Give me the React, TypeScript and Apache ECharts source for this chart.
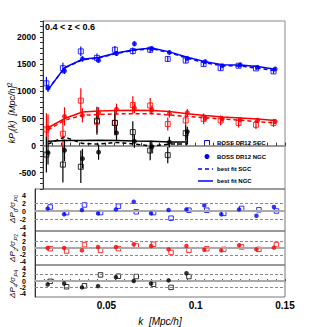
import React, { useEffect, useRef } from "react";
import * as echarts from "echarts";

// effective k of each bin [h/Mpc]
const K = [0.0178, 0.027, 0.037, 0.046, 0.056, 0.066, 0.0757, 0.0855, 0.0955, 0.1055, 0.115, 0.125, 0.1347, 0.1445];
const K4 = [0.0178, 0.027, 0.037, 0.046, 0.056, 0.066, 0.0757, 0.0855, 0.0955];
const K4_FIT = [0.0178, 0.027, 0.037, 0.046, 0.056, 0.066, 0.0757, 0.0855, 0.0955, 0.0955];

// monopole kP0
const P0_NGC = [1060, 1380, 1600, 1575, 1700, 1880, 1790, 1720, 1610, 1550, 1475, 1490, 1445, 1415];
const P0_NGC_ERR = [70, 60, 50, 45, 45, 45, 40, 40, 35, 35, 30, 30, 30, 30];
const P0_SGC = [1150, 1430, 1740, 1620, 1770, 1745, 1770, 1600, 1570, 1505, 1430, 1475, 1425, 1370];
const P0_SGC_ERR = [120, 100, 90, 80, 70, 65, 60, 55, 50, 45, 45, 40, 40, 40];
const P0_FIT_NGC = [1030, 1440, 1595, 1625, 1710, 1770, 1800, 1730, 1630, 1550, 1495, 1490, 1460, 1410];
const P0_FIT_SGC = [1040, 1430, 1585, 1615, 1700, 1760, 1790, 1715, 1615, 1530, 1475, 1470, 1430, 1385];

// quadrupole kP2
const P2_NGC = [330, 540, 560, 600, 675, 690, 660, 590, 610, 510, 495, 480, 465, 445];
const P2_NGC_ERR = [250, 170, 130, 110, 100, 90, 80, 70, 65, 60, 55, 50, 50, 45];
const P2_SGC = [300, 220, 830, 440, 420, 750, 740, 400, 465, 495, 465, 420, 385, 420];
const P2_SGC_ERR = [300, 260, 230, 200, 180, 160, 140, 120, 110, 100, 90, 85, 80, 75];
const P2_FIT_NGC = [330, 500, 620, 640, 650, 655, 650, 630, 590, 555, 530, 510, 490, 465];
const P2_FIT_SGC = [290, 470, 560, 575, 585, 590, 590, 565, 540, 515, 490, 470, 440, 420];

// hexadecapole kP4
const P4_NGC = [-130, -85, -240, -120, 235, 80, -20, 65, 260];
const P4_NGC_ERR = [220, 200, 180, 140, 130, 120, 110, 100, 90];
const P4_SGC = [-165, -350, -390, 460, 420, 250, -90, -175, 230];
const P4_SGC_ERR = [330, 330, 300, 260, 230, 200, 180, 150, 140];
const P4_FIT_NGC = [80, 95, 95, 100, 95, 85, 80, 65, 65, 250];
const P4_FIT_SGC = [30, 160, 40, 30, 60, 30, -10, 30, 30, 250];

// residuals (data - fit) / sigma
const R0_NGC = [0.6, -0.8, 0.25, -0.6, 0.4, 2.3, -0.6, 0.25, 0.4, 1.4, -0.8, 0.4, -1.2, 1.0];
const R0_SGC = [1.0, -0.4, 1.5, -0.4, 1.2, -0.2, -0.4, -1.8, 0.2, 0.2, -0.6, 0.65, 0.3, 0.0];
const R2_NGC = [0, 0, -0.7, 0.3, 0.3, 1.1, 0.6, -0.4, 0.6, -0.5, -0.7, 0.8, -0.4, 0.1];
const R2_SGC = [-0.2, -0.9, 1.0, -0.7, -0.2, 0.6, 1.1, -1.3, -0.7, -0.2, -0.4, 0.3, -0.4, 1.0];
const R4_NGC = [-1.1, -0.8, -2.0, -1.6, 1.2, 0, -0.8, 0.2, 2.4];
const R4_SGC = [-0.1, -1.8, -1.5, 1.9, 1.5, 1.4, -1.0, -2.0, 1.4];

const LEGEND_LABELS = ["BOSS DR12 SGC", "BOSS DR12 NGC", "best fit SGC", "best fit NGC"];

const SGC_SHIFT_TOP = -0.0009;
const RES_NGC_SHIFT = -0.0007;
const RES_SGC_SHIFT = 0.0007;

const BLUE = "#0000ff";
const RED = "#ff0000";
const BLACK = "#000000";
const FONT = "Liberation Sans, Arial, Helvetica, sans-serif";

const pts = (ks: number[], vs: number[], shift = 0) => vs.map((v, i) => [ks[i] + shift, v]);
const errPts = (ks: number[], vs: number[], es: number[], shift = 0) =>
  vs.map((v, i) => [ks[i] + shift, v, es[i]]);

function errSeries(data: number[][], color: string) {
  return {
    type: "custom",
    xAxisIndex: 0,
    yAxisIndex: 0,
    silent: true,
    z: 2,
    data,
    encode: { x: 0, y: 1 },
    renderItem: (params: any, api: any) => {
      const x = api.value(0);
      const y = api.value(1);
      const e = api.value(2);
      const a = api.coord([x, y - e]);
      const b = api.coord([x, y + e]);
      return {
        type: "line",
        shape: { x1: a[0], y1: a[1], x2: b[0], y2: b[1] },
        style: { stroke: color, lineWidth: 1.2 },
      };
    },
  };
}

function markers(name: string, data: number[][], color: string, hollow: boolean, idx: number, size: number) {
  return {
    type: "scatter",
    name,
    xAxisIndex: idx,
    yAxisIndex: idx,
    data,
    symbol: hollow ? "rect" : "circle",
    symbolSize: size,
    silent: true,
    z: hollow ? 4 : 5,
    itemStyle: hollow
      ? { color: "rgba(255,255,255,0)", borderColor: color, borderWidth: 1 }
      : { color, borderWidth: 0 },
  };
}

function fitLine(name: string, data: number[][], color: string, dashed: boolean) {
  return {
    type: "line",
    name,
    xAxisIndex: 0,
    yAxisIndex: 0,
    data,
    symbol: "none",
    silent: true,
    z: 3,
    lineStyle: { color, width: 1.5, type: dashed ? [4, 3] : "solid" },
  };
}

function refLines(idx: number) {
  return {
    type: "scatter",
    xAxisIndex: idx,
    yAxisIndex: idx,
    data: [],
    silent: true,
    z: 1,
    markLine: {
      silent: true,
      symbol: "none",
      label: { show: false },
      animation: false,
      data: [
        { yAxis: 0, lineStyle: { color: "#aaaaaa", width: 2, type: "solid" } },
        { yAxis: 2, lineStyle: { color: "#888888", width: 1, type: [3, 2] } },
        { yAxis: -2, lineStyle: { color: "#888888", width: 1, type: [3, 2] } },
      ],
    },
  };
}

const resLabel = (v: number) => (Math.abs(v) <= 4 && Math.round(v) % 2 === 0 ? String(Math.round(v)) : "");

function resYAxis(idx: number, min: number, max: number) {
  return {
    type: "value",
    gridIndex: idx,
    min,
    max,
    interval: 1,
    axisLine: { show: true, lineStyle: { color: "#333", width: 1 } },
    axisTick: { show: false },
    splitLine: { show: false },
    axisLabel: {
      formatter: resLabel,
      fontSize: 7,
      fontWeight: "bold",
      fontFamily: FONT,
      color: "#000",
      margin: 9,
    },
  };
}

function resXAxis(idx: number) {
  return {
    type: "value",
    gridIndex: idx,
    min: 0.01,
    max: 0.15,
    interval: 0.005,
    axisLine: { show: false },
    axisTick: { show: false },
    axisLabel: { show: false },
    splitLine: { show: false },
  };
}

function resTitle(l: string, y: number) {
  return {
    type: "text",
    x: 12,
    y,
    rotation: Math.PI / 2,
    style: {
      text: `{i|ΔP}{s|${l}}{i|/σ}{s|P}{ss|${l}}`,
      align: "center",
      verticalAlign: "middle",
      rich: {
        i: { fontSize: 8, fontStyle: "italic", fontFamily: FONT, fill: "#000", verticalAlign: "middle", lineHeight: 11 },
        s: { fontSize: 6, fontStyle: "italic", fontFamily: FONT, fill: "#000", verticalAlign: "bottom", lineHeight: 11 },
        ss: { fontSize: 5, fontFamily: FONT, fill: "#000", verticalAlign: "bottom", lineHeight: 13 },
      },
    },
  };
}

function legendGraphics() {
  const lx = 198;
  const ys = [143, 156.5, 169, 181];
  const txt = (s: string, y: number) => ({
    type: "text",
    x: 217,
    y,
    style: {
      text: s,
      fontSize: 6,
      fontWeight: "bold",
      fontFamily: FONT,
      fill: "#000",
      verticalAlign: "middle",
      align: "left",
    },
  });
  return [
    {
      type: "rect",
      shape: { x: 204.5, y: ys[0] - 2.5, width: 5, height: 5 },
      style: { fill: "none", stroke: BLUE, lineWidth: 1 },
    },
    { type: "circle", shape: { cx: 207, cy: ys[1], r: 2.5 }, style: { fill: BLUE } },
    {
      type: "line",
      shape: { x1: lx, y1: ys[2], x2: lx + 15, y2: ys[2] },
      style: { stroke: BLUE, lineWidth: 1.5, lineDash: [4, 3] },
    },
    {
      type: "line",
      shape: { x1: lx, y1: ys[3], x2: lx + 15, y2: ys[3] },
      style: { stroke: BLUE, lineWidth: 1.5 },
    },
    ...LEGEND_LABELS.map((s, i) => txt(s, ys[i])),
  ];
}

export default function App() {
  const ref = useRef<HTMLDivElement>(null);
  useEffect(() => {
    if (!ref.current) return;
    const chart = echarts.init(ref.current, null, { renderer: "svg" });
    const option: any = {
      animation: false,
      backgroundColor: "#ffffff",
      textStyle: { fontFamily: FONT },
      grid: [
        { left: 43, top: 21, width: 242, height: 168, show: true, borderColor: "#888", borderWidth: 1 },
        { left: 35, top: 189, width: 250, height: 42, show: true, borderColor: "#777", borderWidth: 1 },
        { left: 35, top: 231, width: 250, height: 34, show: true, borderColor: "#777", borderWidth: 1 },
        { left: 35, top: 265, width: 250, height: 35, show: true, borderColor: "#777", borderWidth: 1 },
      ],
      xAxis: [
        {
          type: "value",
          gridIndex: 0,
          min: 0.015,
          max: 0.15,
          interval: 0.005,
          axisLine: { show: true, lineStyle: { color: "#999", width: 2 } },
          axisTick: { show: true, inside: true, length: 3, lineStyle: { color: "#333" } },
          axisLabel: { show: false },
          splitLine: { show: false },
        },
        resXAxis(1),
        resXAxis(2),
        {
          type: "value",
          gridIndex: 3,
          min: 0.01,
          max: 0.15,
          interval: 0.005,
          axisLine: { show: true, lineStyle: { color: "#555", width: 1 } },
          axisTick: { show: true, inside: true, length: 2, lineStyle: { color: "#555" } },
          splitLine: { show: false },
          axisLabel: {
            formatter: (v: number) => {
              const n = Math.round(v * 1000);
              return n > 0 && n % 50 === 0 ? String(n / 1000) : "";
            },
            fontSize: 10,
            fontWeight: "bold",
            fontFamily: FONT,
            color: "#000",
            margin: 3,
          },
          name: "k  [Mpc/h]",
          nameLocation: "middle",
          nameGap: 13,
          nameTextStyle: { fontSize: 10, fontStyle: "italic", fontFamily: FONT, color: "#000", padding: [6, 0, 0, 0] },
        },
      ],
      yAxis: [
        {
          type: "value",
          gridIndex: 0,
          min: -800,
          max: 2300,
          interval: 100,
          axisLine: { show: true, lineStyle: { color: "#333", width: 1 } },
          axisTick: { show: true, length: 3, lineStyle: { color: "#333" } },
          splitLine: { show: false },
          axisLabel: {
            formatter: (v: number) => (Math.round(v) % 500 === 0 ? String(Math.round(v)) : ""),
            fontSize: 8.5,
            fontWeight: "bold",
            fontFamily: FONT,
            color: "#000",
            margin: 7,
          },
        },
        resYAxis(1, -5, 5.5),
        resYAxis(2, -5, 5),
        resYAxis(3, -5, 5),
      ],
      graphic: [
        {
          type: "text",
          left: 45,
          top: 22,
          style: { text: "0.4 < z < 0.6", fontSize: 9, fontWeight: "bold", fontFamily: FONT, fill: "#000" },
        },
        {
          type: "text",
          x: 12,
          y: 113,
          rotation: Math.PI / 2,
          style: {
            text: "{i|kP}{s|ℓ}{i|(k)  [Mpc/h]}{p|2}",
            align: "center",
            verticalAlign: "middle",
            rich: {
              i: { fontSize: 9, fontStyle: "italic", fontFamily: FONT, fill: "#000", verticalAlign: "middle", lineHeight: 12 },
              s: { fontSize: 6.5, fontStyle: "italic", fontFamily: FONT, fill: "#000", verticalAlign: "bottom", lineHeight: 13 },
              p: { fontSize: 6.5, fontFamily: FONT, fill: "#000", verticalAlign: "top", lineHeight: 12 },
            },
          },
        },
        resTitle("4", 284),
        resTitle("2", 248),
        resTitle("0", 209),
        ...legendGraphics(),
      ],
      series: [
        errSeries(errPts(K, P0_SGC, P0_SGC_ERR, SGC_SHIFT_TOP), BLUE),
        errSeries(errPts(K, P0_NGC, P0_NGC_ERR), BLUE),
        errSeries(errPts(K, P2_SGC, P2_SGC_ERR, SGC_SHIFT_TOP), RED),
        errSeries(errPts(K, P2_NGC, P2_NGC_ERR), RED),
        errSeries(errPts(K4, P4_SGC, P4_SGC_ERR, SGC_SHIFT_TOP), BLACK),
        errSeries(errPts(K4, P4_NGC, P4_NGC_ERR), BLACK),
        fitLine("best fit SGC", pts(K, P0_FIT_SGC), BLUE, true),
        fitLine("best fit NGC", pts(K, P0_FIT_NGC), BLUE, false),
        fitLine("fit2 SGC", pts(K, P2_FIT_SGC), RED, true),
        fitLine("fit2 NGC", pts(K, P2_FIT_NGC), RED, false),
        fitLine("fit4 SGC", pts(K4_FIT, P4_FIT_SGC), BLACK, true),
        fitLine("fit4 NGC", pts(K4_FIT, P4_FIT_NGC), BLACK, false),
        markers("BOSS DR12 SGC", pts(K, P0_SGC, SGC_SHIFT_TOP), BLUE, true, 0, 5),
        markers("BOSS DR12 NGC", pts(K, P0_NGC), BLUE, false, 0, 5),
        markers("P2 SGC", pts(K, P2_SGC, SGC_SHIFT_TOP), RED, true, 0, 5),
        markers("P2 NGC", pts(K, P2_NGC), RED, false, 0, 5),
        markers("P4 SGC", pts(K4, P4_SGC, SGC_SHIFT_TOP), BLACK, true, 0, 5),
        markers("P4 NGC", pts(K4, P4_NGC), BLACK, false, 0, 5),
        refLines(1),
        refLines(2),
        refLines(3),
        markers("R0 SGC", pts(K, R0_SGC, RES_SGC_SHIFT), BLUE, true, 1, 4.5),
        markers("R0 NGC", pts(K, R0_NGC, RES_NGC_SHIFT), BLUE, false, 1, 4.5),
        markers("R2 SGC", pts(K, R2_SGC, RES_SGC_SHIFT), RED, true, 2, 4.5),
        markers("R2 NGC", pts(K, R2_NGC, RES_NGC_SHIFT), RED, false, 2, 4.5),
        markers("R4 SGC", pts(K4, R4_SGC, RES_SGC_SHIFT), BLACK, true, 3, 4.5),
        markers("R4 NGC", pts(K4, R4_NGC, RES_NGC_SHIFT), BLACK, false, 3, 4.5),
      ],
    };
    chart.setOption(option);
    return () => chart.dispose();
  }, []);
  return (
    <div
      ref={ref}
      style={{ position: "fixed", left: 0, top: 0, width: 316, height: 327, background: "#fff" }}
    />
  );
}
